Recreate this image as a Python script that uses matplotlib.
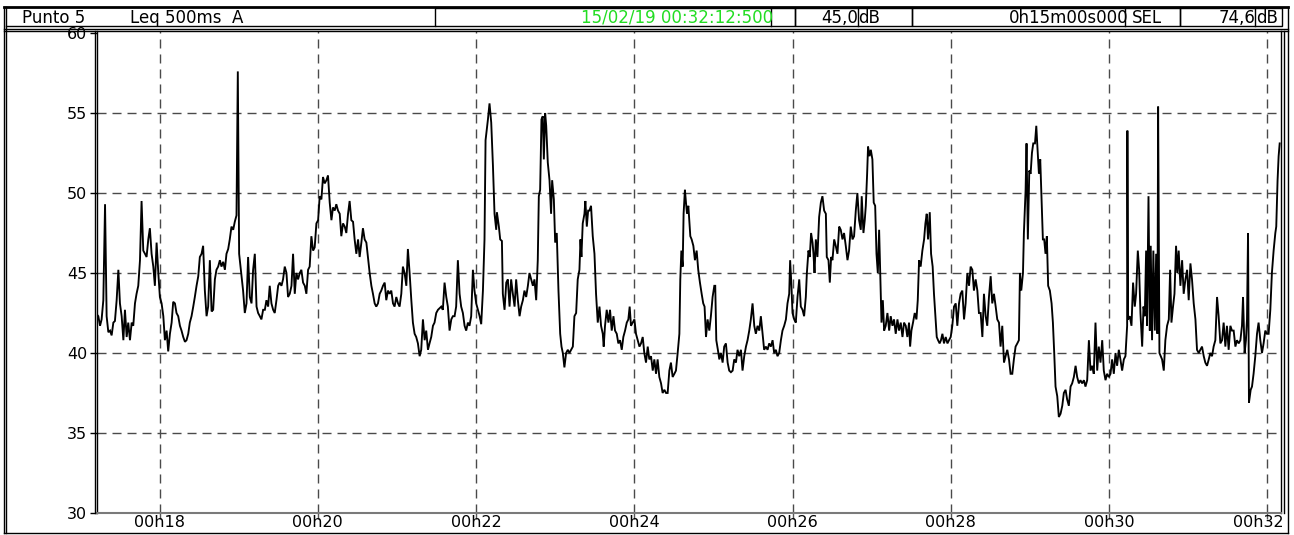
import numpy as np
import matplotlib
matplotlib.use('Agg')
import matplotlib.pyplot as plt
from matplotlib.lines import Line2D
from matplotlib.patches import Rectangle
from matplotlib.ticker import FixedLocator, FuncFormatter
from matplotlib.transforms import ScaledTranslation

W, H = 1294, 535
START = 17 * 60 + 12.5      # 00:17:12.500 in seconds of the hour
SPAN = 898.0                # shown span, seconds

# elapsed seconds / Leq 500ms dB(A)
seg1_t = [0.0, 1.0, 2.3, 3.5, 4.8, 6.1, 7.3, 8.6, 9.9, 11.1, 12.4, 13.6, 14.9, 16.2, 17.4, 18.7,
          20.0, 21.2, 22.5, 23.7, 25.0, 26.3, 27.5, 28.8, 30.0, 31.3, 32.6, 33.8, 35.1, 36.4, 37.6,
          38.9, 40.1, 41.4, 42.7, 43.9, 45.2, 46.5, 47.7, 49.0, 50.3, 51.5, 52.8, 54.0, 55.3, 56.6,
          57.8, 59.1, 60.3, 61.6, 62.9, 64.1, 65.4, 66.7, 67.9, 69.2, 70.4, 71.7, 73.0, 74.2, 75.5,
          76.8, 78.0, 79.3, 80.5, 81.8, 83.1, 84.3, 85.6, 86.9, 88.1, 89.4, 90.6, 91.9, 93.2, 94.4,
          95.7, 97.0, 98.2, 99.5, 100.7, 102.0, 103.3, 104.5, 105.8, 106.8, 107.8, 109.6, 110.8,
          112.1, 113.4, 114.6, 115.9, 117.2, 118.4, 119.7, 121.0, 122.2, 123.5, 124.7, 126.0, 127.3,
          128.5, 129.8, 131.0, 132.3, 133.6, 134.8, 136.1, 137.4, 138.6, 139.9, 141.1, 142.4, 143.7,
          144.9, 146.2, 147.5, 148.7, 150.0, 151.2, 152.5, 153.8, 155.0, 156.3, 157.6, 158.8, 160.1,
          161.3, 162.6, 163.9, 165.1, 166.4, 167.7, 168.9, 170.2, 171.4, 172.7, 174.0, 175.2, 176.5,
          177.8, 179.0, 180.3, 181.5, 182.8, 184.1, 185.3, 186.6, 187.9, 189.1, 190.4, 191.6, 192.9,
          194.2, 195.4, 196.7, 198.0, 199.2, 200.5, 201.7, 203.0, 204.3, 205.5, 206.8, 208.1, 209.3,
          210.6, 211.8, 213.1, 214.4, 215.6, 216.9, 218.2, 219.4, 220.7, 221.9, 223.2, 224.5, 225.7,
          227.0, 228.3, 229.5, 230.8, 232.0, 233.3, 234.6, 235.8, 237.1, 238.4, 239.6, 240.9, 242.1,
          243.4, 244.7, 245.9, 247.2, 248.5, 249.7, 251.0, 252.2, 253.5, 254.8, 256.0, 257.3, 258.6,
          259.8, 261.1, 262.3, 263.6, 264.9, 266.1, 267.4, 268.7, 269.9, 271.2, 272.4, 273.7, 275.0,
          276.2, 277.5, 278.8, 280.0, 281.3, 282.5, 283.8, 285.1, 286.3, 287.6, 288.9]
seg1_db = [42.4, 42.3, 41.7, 42.1, 43.3, 49.3, 42.3, 41.3, 41.4, 41.1, 41.9, 42.0, 43.3, 45.2, 43.1,
           42.3, 40.8, 42.7, 41.0, 41.9, 40.8, 41.9, 41.7, 43.1, 43.7, 44.2, 45.8, 49.5, 46.4, 46.2,
           46.0, 47.1, 47.8, 46.2, 45.4, 44.2, 46.9, 45.0, 43.5, 43.1, 42.3, 40.8, 41.4, 40.1, 41.2,
           41.9, 43.2, 43.1, 42.5, 42.3, 41.7, 41.4, 41.0, 40.7, 40.8, 41.2, 41.9, 42.3, 42.9, 43.5,
           44.2, 44.8, 46.0, 46.2, 46.7, 43.9, 42.3, 42.9, 45.8, 42.6, 42.7, 44.6, 45.2, 45.4, 45.8,
           45.4, 45.7, 45.2, 46.2, 46.5, 47.1, 47.9, 47.7, 48.2, 48.6, 57.6, 46.2, 44.8, 43.9, 42.5,
           43.1, 46.0, 43.5, 43.1, 45.2, 46.2, 42.9, 42.5, 42.3, 42.1, 42.7, 42.7, 43.3, 42.9, 44.2,
           43.1, 42.7, 42.5, 43.3, 44.2, 44.4, 44.2, 44.6, 45.4, 45.0, 43.5, 43.7, 44.2, 46.2, 43.7,
           45.0, 44.6, 45.0, 45.2, 44.4, 44.2, 43.7, 45.2, 45.4, 47.3, 46.4, 46.6, 48.1, 48.3, 49.8,
           49.6, 51.0, 50.6, 50.8, 51.1, 49.4, 48.3, 49.1, 48.9, 49.3, 48.9, 48.7, 47.3, 48.1, 47.9,
           47.5, 48.7, 49.5, 48.3, 48.2, 47.1, 46.2, 47.1, 46.0, 46.9, 47.8, 47.1, 46.9, 46.0, 45.0,
           44.2, 43.7, 43.1, 42.9, 43.1, 43.7, 43.9, 44.2, 44.4, 43.3, 43.9, 43.7, 43.9, 43.1, 42.9,
           43.5, 43.1, 42.9, 43.7, 45.4, 45.0, 44.2, 46.5, 45.0, 43.3, 41.9, 41.2, 41.0, 40.6, 39.8,
           40.2, 42.1, 40.8, 41.4, 40.2, 40.6, 41.0, 41.7, 41.9, 42.5, 42.7, 42.8, 42.9, 42.7, 44.4,
           43.5, 42.9, 41.4, 42.1, 42.3, 42.3, 42.9, 45.8, 43.7, 42.9, 42.5, 41.7, 41.4, 41.9, 41.7,
           42.3, 45.2, 43.9, 43.1, 42.7]

seg2_t = [290.2, 291.4, 292.7, 293.9, 294.7, 296.5, 297.7, 299.0, 300.3, 301.5, 302.8, 303.3, 304.8,
          305.8, 307.1, 307.8, 309.1, 310.4, 311.6, 312.9, 314.1, 315.4, 316.7, 317.9, 319.2, 320.5,
          321.7, 323.0, 324.2, 325.5, 326.8, 328.0, 329.3, 330.6, 331.8, 333.1, 334.3, 335.1, 336.1,
          337.1, 338.1, 338.9, 339.9, 340.7, 341.9, 343.2, 344.4, 345.2, 346.5, 347.5, 348.7, 350.0,
          351.3, 352.3, 353.3, 354.5, 355.8, 357.1, 358.3, 359.6, 360.9, 362.1, 363.4, 364.6, 365.9,
          366.7, 367.4, 368.4, 369.7, 370.4, 371.5, 372.5, 373.5, 374.7, 376.0, 377.3, 378.5, 379.8,
          381.1, 382.3, 383.6, 384.3, 385.3, 386.6, 387.9, 389.1, 390.4, 391.7, 392.9, 394.2, 395.4,
          396.7, 398.0, 399.2, 400.5, 401.8, 403.0, 404.0, 405.0, 406.3, 407.6, 408.8, 410.1, 411.4,
          412.6, 413.9, 415.1, 416.4, 417.7, 418.9, 420.2, 421.5, 422.7, 424.0, 425.2, 426.5, 427.8,
          429.0, 430.3, 431.6, 432.8, 434.1, 435.3, 436.6, 437.9, 439.1, 440.4, 441.7, 442.4, 443.2,
          444.2, 444.9, 445.9, 446.7, 447.5, 448.5, 449.2, 450.0, 451.0, 452.3, 453.5, 454.8, 456.0,
          457.3, 458.6, 459.8, 460.8, 461.9, 463.1, 464.4, 465.6, 466.9, 468.2, 468.9, 469.7, 470.9,
          472.0, 473.2, 474.5, 475.7, 477.0, 478.3, 479.5, 480.8, 482.1, 483.3, 484.6, 485.8, 487.1,
          488.4, 489.6, 490.9, 492.2, 493.4, 494.7, 495.9, 497.2, 498.5, 499.7, 501.0, 502.3, 503.5,
          504.8, 506.0, 507.3, 508.6, 509.8, 511.1, 512.4, 513.6, 514.9, 516.1, 517.4, 518.7, 519.9,
          521.2, 522.5, 523.7, 525.0, 525.7, 526.7, 527.5, 528.8, 530.0, 531.3, 532.6, 533.8, 535.1,
          536.3, 537.6, 538.4, 539.6, 540.6, 541.6, 542.7, 543.4, 544.2, 545.2, 546.4, 547.7, 549.0,
          550.2, 551.5, 552.8, 553.5, 554.8, 555.8, 556.8, 557.8, 559.1, 560.3, 561.6, 562.9, 564.1,
          565.4, 566.6, 567.9, 569.2, 570.4, 571.7, 573.0, 574.2, 575.5, 576.7]
seg2_db = [42.3, 41.8, 43.9, 47.1, 53.3, 54.6, 55.6, 54.4, 51.7, 48.7, 47.7, 48.8, 47.9, 47.1, 47.0,
           43.7, 42.7, 44.4, 44.6, 42.9, 44.6, 43.7, 42.9, 44.6, 43.3, 42.3, 42.9, 43.3, 43.9, 43.5,
           44.2, 45.0, 44.6, 44.2, 44.6, 43.3, 45.8, 49.8, 50.2, 54.6, 54.8, 52.1, 55.0, 54.2, 51.9,
           50.8, 48.7, 50.8, 49.6, 46.9, 47.5, 43.9, 41.2, 40.4, 40.0, 39.1, 40.0, 40.2, 40.0, 40.2,
           40.4, 42.3, 42.5, 44.6, 45.2, 47.1, 46.0, 48.1, 48.7, 49.5, 47.9, 48.9, 48.9, 49.2, 47.3,
           46.2, 43.7, 41.9, 42.9, 41.7, 41.2, 40.4, 41.7, 42.7, 41.9, 42.7, 41.4, 42.3, 41.4, 41.2,
           40.6, 40.8, 40.2, 41.0, 41.4, 41.9, 42.1, 42.9, 41.7, 41.9, 42.1, 41.2, 40.8, 40.4, 40.6,
           41.0, 40.0, 39.4, 40.4, 39.6, 39.8, 38.9, 39.6, 38.7, 39.6, 38.5, 38.1, 37.5, 37.7, 37.5,
           37.5, 38.9, 39.4, 38.5, 38.7, 38.9, 40.0, 41.2, 44.6, 46.4, 45.4, 48.7, 50.2, 49.4, 48.7,
           49.2, 48.3, 47.3, 47.1, 46.7, 45.8, 46.4, 45.2, 44.4, 43.7, 43.1, 42.9, 41.0, 42.1, 41.4,
           42.3, 43.5, 44.2, 44.2, 40.8, 40.2, 39.6, 40.0, 39.4, 40.4, 40.6, 39.4, 38.9, 38.8, 38.9,
           39.6, 39.4, 40.2, 39.8, 40.2, 38.9, 39.8, 40.4, 40.8, 41.4, 42.1, 43.1, 41.7, 41.2, 41.7,
           41.4, 42.3, 41.2, 40.2, 40.4, 40.2, 40.6, 40.4, 40.8, 40.0, 40.2, 39.8, 40.0, 40.8, 41.4,
           41.7, 42.1, 43.1, 43.7, 45.8, 44.2, 42.5, 42.1, 41.9, 43.5, 44.6, 42.9, 42.7, 42.3, 43.5,
           45.0, 46.4, 46.0, 47.5, 46.9, 46.2, 45.0, 47.1, 46.0, 48.5, 49.4, 49.8, 48.9, 48.7, 46.0,
           45.8, 44.4, 46.0, 45.8, 47.1, 46.7, 46.2, 47.9, 47.7, 47.1, 47.5, 46.7, 45.8, 46.4, 47.9,
           47.1, 47.3, 48.9, 50.0]

seg3_t = [578.0, 579.3, 580.0, 581.3, 582.3, 583.1, 584.1, 584.8, 585.9, 586.9, 588.1, 589.1, 590.2,
          591.2, 592.2, 593.2, 594.0, 595.0, 596.0, 597.0, 598.2, 599.5, 600.8, 602.0, 603.3, 604.5,
          605.8, 607.1, 608.3, 609.6, 610.9, 612.1, 613.4, 614.6, 615.9, 616.7, 617.7, 618.9, 620.2,
          621.5, 622.5, 623.5, 624.7, 626.0, 627.3, 628.3, 629.3, 630.3, 631.6, 632.6, 633.8, 634.8,
          635.9, 636.9, 637.9, 639.1, 640.1, 641.2, 642.4, 643.7, 645.0, 646.2, 647.5, 648.7, 650.0,
          651.3, 652.5, 653.8, 655.0, 656.3, 657.6, 658.8, 660.1, 661.4, 662.6, 663.9, 665.1, 666.4,
          667.7, 668.9, 670.2, 671.5, 672.7, 674.0, 675.2, 676.5, 677.8, 679.0, 680.3, 681.6, 682.8,
          684.1, 685.3, 686.6, 687.9, 689.1, 690.4, 691.7, 692.9, 694.2, 695.4, 696.7, 698.0, 699.2,
          700.0, 701.0, 702.3, 703.0, 704.3, 705.0, 706.0, 707.1, 708.1, 709.1, 710.1, 711.4, 712.4,
          713.1, 714.4, 715.4, 716.4, 717.4, 718.4, 719.4, 720.4, 721.4, 722.7, 724.0, 725.0, 726.0,
          727.0, 728.3, 729.5, 730.8, 732.1, 733.3, 734.6, 735.8, 737.1, 738.4, 739.6, 740.9, 742.2,
          743.4, 744.7, 745.9, 747.2, 748.5, 749.7, 751.0, 752.3, 753.5, 754.8, 756.0, 757.3, 758.6,
          759.8, 761.1, 762.4, 763.6, 764.9, 766.1, 767.4, 768.7, 769.9, 771.2, 772.5, 773.7, 775.0,
          776.2, 777.5, 778.8, 780.0, 781.3, 781.5, 782.0, 783.3, 784.6, 785.8, 787.1, 788.1, 789.4,
          790.4, 791.4, 792.7, 793.7, 794.7, 795.7, 796.4, 797.5, 798.5, 799.2, 800.2, 801.2, 802.3,
          803.3, 804.3, 804.8, 805.8, 806.8, 807.8, 809.1, 810.3, 811.6, 812.9, 813.9, 814.9, 816.1,
          817.2, 818.4, 819.4, 820.4, 821.7, 823.0, 824.2, 825.5, 826.8, 828.0, 829.3, 830.5, 831.8,
          833.1, 834.3, 835.6, 836.8, 838.1, 839.4, 840.6, 841.9, 843.2, 844.4, 845.7, 846.9, 848.2,
          849.5, 850.7, 852.0, 853.3, 854.5, 855.8, 857.0, 858.3, 859.6, 860.8, 862.1, 863.4, 864.6,
          865.9, 867.2, 868.4, 869.2, 870.4, 871.4, 872.2, 873.0, 873.7, 875.0, 876.0, 877.2, 878.5,
          879.8, 881.0, 882.3, 883.6, 884.8, 886.1, 887.3, 888.6, 889.9, 891.1, 892.4, 893.7, 894.4,
          895.4, 896.2, 897.0]
seg3_db = [48.3, 47.7, 49.8, 47.5, 48.3, 49.2, 51.2, 52.9, 52.3, 52.7, 52.1, 49.4, 49.2, 46.2, 45.0,
           47.7, 45.0, 41.9, 43.3, 41.4, 41.7, 42.5, 41.4, 42.3, 41.7, 42.1, 41.2, 42.1, 41.4, 41.9,
           41.0, 41.9, 41.7, 41.0, 41.9, 40.4, 41.4, 41.9, 42.5, 42.1, 43.3, 45.8, 45.4, 46.4, 47.1,
           48.1, 48.7, 47.1, 48.8, 46.2, 45.4, 43.7, 42.3, 41.0, 40.8, 40.6, 40.8, 41.2, 40.6, 41.0,
           40.6, 40.8, 41.0, 41.7, 42.9, 43.1, 41.7, 43.1, 43.7, 43.9, 42.1, 43.1, 45.0, 44.2, 45.4,
           45.2, 43.9, 44.6, 43.9, 42.5, 42.5, 41.0, 43.7, 42.3, 41.7, 43.5, 44.8, 43.1, 43.7, 42.9,
           42.1, 41.9, 40.4, 41.7, 39.4, 39.8, 40.2, 39.6, 38.7, 38.7, 39.6, 40.4, 40.6, 40.8, 45.0,
           43.9, 45.0, 47.5, 50.2, 53.1, 47.1, 51.4, 51.2, 52.5, 53.1, 53.1, 54.2, 53.1, 51.2, 52.1,
           49.6, 47.1, 47.1, 46.2, 47.3, 44.2, 43.9, 43.1, 41.9, 40.0, 37.9, 37.3, 36.0, 36.2, 36.7,
           37.5, 37.7, 37.1, 36.7, 37.9, 38.1, 38.5, 39.2, 38.5, 38.1, 38.3, 38.1, 38.3, 37.9, 38.3,
           40.8, 38.9, 39.2, 38.7, 41.9, 38.9, 40.4, 39.4, 40.8, 38.9, 38.3, 38.7, 38.5, 38.7, 39.6,
           38.7, 40.0, 39.2, 40.2, 39.6, 38.9, 39.6, 39.8, 41.7, 53.9, 42.1, 42.3, 41.7, 44.4, 42.9,
           43.7, 46.4, 45.2, 42.5, 40.4, 42.9, 42.3, 46.4, 41.7, 49.8, 41.4, 46.7, 40.8, 46.4, 41.4,
           46.2, 41.2, 55.4, 40.0, 39.8, 39.6, 38.9, 40.8, 41.7, 42.1, 45.2, 41.9, 42.9, 43.7, 46.7,
           45.0, 46.4, 44.2, 45.8, 43.7, 44.6, 45.2, 43.3, 45.6, 44.6, 43.1, 42.1, 40.2, 40.0, 40.2,
           40.4, 39.8, 39.4, 39.2, 39.6, 40.0, 39.8, 40.4, 40.8, 43.5, 42.3, 40.6, 40.8, 41.9, 40.4,
           41.7, 40.2, 41.7, 41.4, 41.4, 40.4, 40.8, 40.6, 40.8, 41.7, 43.5, 40.0, 40.8, 42.1, 47.5,
           36.9, 37.7, 37.9, 38.7, 39.8, 41.2, 41.9, 40.8, 40.0, 40.6, 41.4, 41.2, 41.2, 42.7, 45.0,
           46.4, 47.5, 47.9, 50.8, 52.3, 53.1]

y_ticks = [30, 35, 40, 45, 50, 55, 60]
x_ticks = [18, 20, 22, 24, 26, 28, 30, 32]   # minutes past 00h

header_left = ['Punto 5', 'Leq 500ms  A']
header_date = '15/02/19 00:32:12:500'
header_leq = ('45,0', 'dB')
header_dur = '0h15m00s000'
header_sel = ('SEL', '74,6', 'dB')

plt.rcParams['font.family'] = 'DejaVu Sans'
FS = 12
TICK_FS = 11.5

t = np.array(seg1_t + seg2_t + seg3_t)
db = np.array(seg1_db + seg2_db + seg3_db)

fig = plt.figure(figsize=(W / 100, H / 100), dpi=100)
fig.patch.set_facecolor('white')


def fx(x):
    return x / W


def fy(y):
    return 1 - y / H


def hline(x0, x1, y, lw=1.0, color='black'):
    fig.add_artist(Line2D([fx(x0), fx(x1)], [fy(y), fy(y)], lw=lw, color=color,
                          transform=fig.transFigure))


def vline(x, y0, y1, lw=1.0, color='black'):
    fig.add_artist(Line2D([fx(x), fx(x)], [fy(y0), fy(y1)], lw=lw, color=color,
                          transform=fig.transFigure))


def label(x, y, s, ha='left', color='black'):
    fig.text(fx(x), fy(y), s, ha=ha, va='baseline', fontsize=FS, color=color)


# plot area
ax_l, ax_r, ax_b, ax_t = 97, 1281, 513, 30.6
ax = fig.add_axes([fx(ax_l), fy(ax_b), (ax_r - ax_l) / W, (ax_b - ax_t) / H])
ax.plot(START + t, db, color='black', lw=1.35, solid_joinstyle='miter')

ax.set_xlim(START, START + SPAN)
ax.set_ylim(30, 60.15)
ax.yaxis.set_major_locator(FixedLocator(y_ticks))
ax.xaxis.set_major_locator(FixedLocator([m * 60 for m in x_ticks]))
ax.xaxis.set_major_formatter(FuncFormatter(lambda v, p: '00h%02d' % round(v / 60)))

dash = (0, (6.5, 4.3))
ax.grid(True, color='#4a4a4a', lw=1.0, linestyle=dash)
ax.get_ygridlines()[-1].set_visible(False)
ax.get_ygridlines()[0].set_visible(False)

ax.spines['top'].set_visible(False)
ax.spines['left'].set_linewidth(1.0)
ax.spines['right'].set_linewidth(1.0)
ax.spines['bottom'].set_color('#7a7a7a')
ax.spines['bottom'].set_linewidth(1.5)

ax.tick_params(axis='y', direction='out', length=5, width=1.0, pad=2, labelsize=TICK_FS)
ax.tick_params(axis='x', direction='out', length=4, width=1.0, pad=-2.5, labelsize=TICK_FS,
               color='#555555')

# last time label is pulled back inside the frame
fig.canvas.draw()
last = ax.get_xticklabels()[-1]
last.set_horizontalalignment('right')
last.set_transform(last.get_transform() + ScaledTranslation(0.16, 0, fig.dpi_scale_trans))

# double lines at both sides of the plot
vline(94.5, ax_t, ax_b)
vline(ax_r + 3, ax_t, ax_b)

# outer frame
hline(4, 1288, 6.5, lw=2.0)
hline(4, 1288, 533)
vline(4, 6.5, 533)
vline(6, 6.5, 533)
vline(1288, 6.5, 533)
hline(4, 1288, 29)
hline(4, 1288, 31)

# header boxes
hline(6, 435, 26)
for x0, x1 in [(435, 795), (795, 912), (912, 1180), (1180, 1282)]:
    fig.add_artist(Rectangle((fx(x0), fy(26)), fx(x1 - x0), (26 - 8) / H, fill=False,
                             lw=1.0, edgecolor='black', transform=fig.transFigure))
for x in [771, 858, 1125, 1255]:
    vline(x, 8, 26)

label(22, 23, header_left[0])
label(130, 23, header_left[1])
label(773, 23, header_date, ha='right', color='#22dd22')
label(858, 23, header_leq[0], ha='right')
label(858, 23, header_leq[1])
label(1129, 23, header_dur, ha='right')
label(1132, 23, header_sel[0])
label(1256, 23, header_sel[1], ha='right')
label(1256, 23, header_sel[2])

fig.savefig('out.png', dpi=100)
